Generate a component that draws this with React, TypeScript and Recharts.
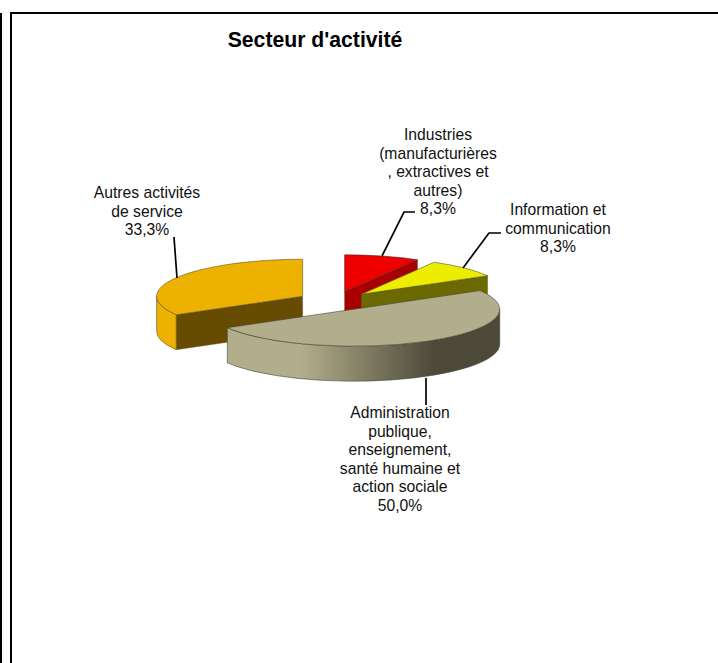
import { Pie, PieChart } from 'recharts';

/**
 * Secteur d'activité: exploded 3D pie drawn through a custom Pie shape.
 */

const categories = [
  'Autres activités de service',
  'Industries (manufacturières, extractives et autres)',
  'Information et communication',
  'Administration publique, enseignement, santé humaine et action sociale',
];
const shares = [33.3, 8.3, 8.3, 50.0];
const labelLines = [
  ['Autres activités', 'de service'],
  ['Industries', '(manufacturières', ', extractives et', 'autres)'],
  ['Information et', 'communication'],
  ['Administration', 'publique,', 'enseignement,', 'santé humaine et', 'action sociale'],
];

const WIDTH = 718;
const HEIGHT = 663;
const CX = 335;
const CY = 301;
const RX = 146;
const RY = 37;
const DEPTH = 35;
const EXPLODE = 0.256;
const FONT = '"Liberation Sans", Arial, sans-serif';

const sliceStyles = [
  { top: '#EDB100', wall: '#664B00', rimFrom: '#EDB100', rimTo: '#EDB100', edge: '#5c5230' },
  { top: '#EE0000', wall: '#A80000', rimFrom: '#EE0000', rimTo: '#A80000', edge: '#5c2020' },
  { top: '#EDED00', wall: '#6A6A00', rimFrom: '#EDED00', rimTo: '#6A6A00', edge: '#55552a' },
  { top: '#B2AE8B', wall: '#4C4939', rimFrom: '#B2AE8B', rimTo: '#4C4939', edge: '#45433a' },
];

// text centre, first baseline, leader line
const labelLayout = [
  { x: 147, y: 198, leader: [[177, 278], [174, 237]] },
  { x: 438, y: 140, leader: [[382, 256], [404, 212], [415, 212]] },
  { x: 558, y: 215, leader: [[463, 268], [489, 233], [501, 233]] },
  { x: 400, y: 418, leader: [[426, 378], [426, 405]] },
];

const rad = (deg: number) => (deg * Math.PI) / 180;

function point(ax: number, ay: number, t: number) {
  return [ax + RX * Math.cos(rad(t)), ay - RY * Math.sin(rad(t))];
}

function Slice3D(props: any) {
  const { cx, cy, startAngle, endAngle, index, midAngle } = props;
  const style = sliceStyles[index];
  const t1 = Math.min(startAngle, endAngle);
  const t2 = Math.max(startAngle, endAngle);
  const mid = midAngle ?? (t1 + t2) / 2;
  const ax = cx + EXPLODE * RX * Math.cos(rad(mid));
  const ay = cy - EXPLODE * RY * Math.sin(rad(mid));
  const [x1, y1] = point(ax, ay, t1);
  const [x2, y2] = point(ax, ay, t2);
  const large = t2 - t1 > 180 ? 1 : 0;
  const gradId = `rim-${index}`;

  // outer wall: only the part of the rim on the near side of the ellipse
  let rim = null;
  if (t1 < 0 || t2 > 180) {
    const start = t1 < 0 ? t1 : 180;
    const end = t1 < 0 ? Math.min(t2, 0) : t2;
    const [rx1, ry1] = point(ax, ay, start);
    const [rx2, ry2] = point(ax, ay, end);
    const d = `M${rx1},${ry1} A${RX},${RY} 0 0 0 ${rx2},${ry2} L${rx2},${ry2 + DEPTH} A${RX},${RY} 0 0 1 ${rx1},${ry1 + DEPTH} Z`;
    rim = <path d={d} fill={`url(#${gradId})`} stroke={style.edge} strokeWidth={0.6} />;
  }

  const faceWall = (px: number, py: number) =>
    `M${ax},${ay} L${px},${py} L${px},${py + DEPTH} L${ax},${ay + DEPTH} Z`;
  const showLow = Math.sin(rad(t1 - 90)) < -0.01;
  const showHigh = Math.sin(rad(t2 + 90)) < -0.01;

  return (
    <g>
      <defs>
        <linearGradient id={gradId} x1="0" y1="0" x2="1" y2="0">
          <stop offset="0" stopColor={style.rimFrom} />
          <stop offset="0.27" stopColor={style.rimFrom} />
          <stop offset="0.76" stopColor={style.rimTo} />
          <stop offset="1" stopColor={style.rimTo} />
        </linearGradient>
      </defs>
      {showLow && <path d={faceWall(x1, y1)} fill={style.wall} stroke={style.edge} strokeWidth={0.4} />}
      {showHigh && <path d={faceWall(x2, y2)} fill={style.wall} stroke={style.edge} strokeWidth={0.4} />}
      {rim}
      <path
        d={`M${ax},${ay} L${x1},${y1} A${RX},${RY} 0 ${large} 0 ${x2},${y2} Z`}
        fill={style.top}
        stroke={style.edge}
        strokeWidth={0.6}
        strokeLinejoin="round"
      />
    </g>
  );
}

function SliceLabel(props: any) {
  const { index, value } = props;
  const place = labelLayout[index];
  const lines = [...labelLines[index], value.toFixed(1).replace('.', ',') + '%'];
  return (
    <g>
      <polyline
        points={place.leader.map((p) => p.join(',')).join(' ')}
        fill="none"
        stroke="#000"
        strokeWidth={1.7}
      />
      <text x={place.x} y={place.y} textAnchor="middle" fontFamily={FONT} fontSize={15.7} fill="#111">
        {lines.map((line, i) => (
          <tspan key={i} x={place.x} dy={i === 0 ? 0 : 18.6}>
            {line}
          </tspan>
        ))}
      </text>
    </g>
  );
}

const data = categories.map((name, i) => ({ name, value: shares[i] }));

export default function App() {
  return (
    <div style={{ position: 'absolute', left: 0, top: 0, width: WIDTH, height: HEIGHT, background: '#fff', overflow: 'hidden' }}>
      <div style={{ position: 'absolute', left: 0, top: 13, width: 2, bottom: 0, background: '#000' }} />
      <div style={{ position: 'absolute', left: 10, top: 12, width: 2, bottom: 0, background: '#000' }} />
      <div style={{ position: 'absolute', left: 10, top: 12, right: 0, height: 2, background: '#000' }} />
      <PieChart width={WIDTH} height={HEIGHT} margin={{ top: 0, right: 0, bottom: 0, left: 0 }}>
        <text x={315} y={47} textAnchor="middle" fontFamily={FONT} fontSize={21.2} fontWeight="bold" fill="#000">
          Secteur d'activité
        </text>
        <Pie
          data={data}
          dataKey="value"
          nameKey="name"
          cx={CX}
          cy={CY}
          outerRadius={RX}
          startAngle={210}
          endAngle={-150}
          stroke="none"
          shape={Slice3D}
          label={SliceLabel}
          labelLine={false}
          isAnimationActive={false}
        />
      </PieChart>
    </div>
  );
}
